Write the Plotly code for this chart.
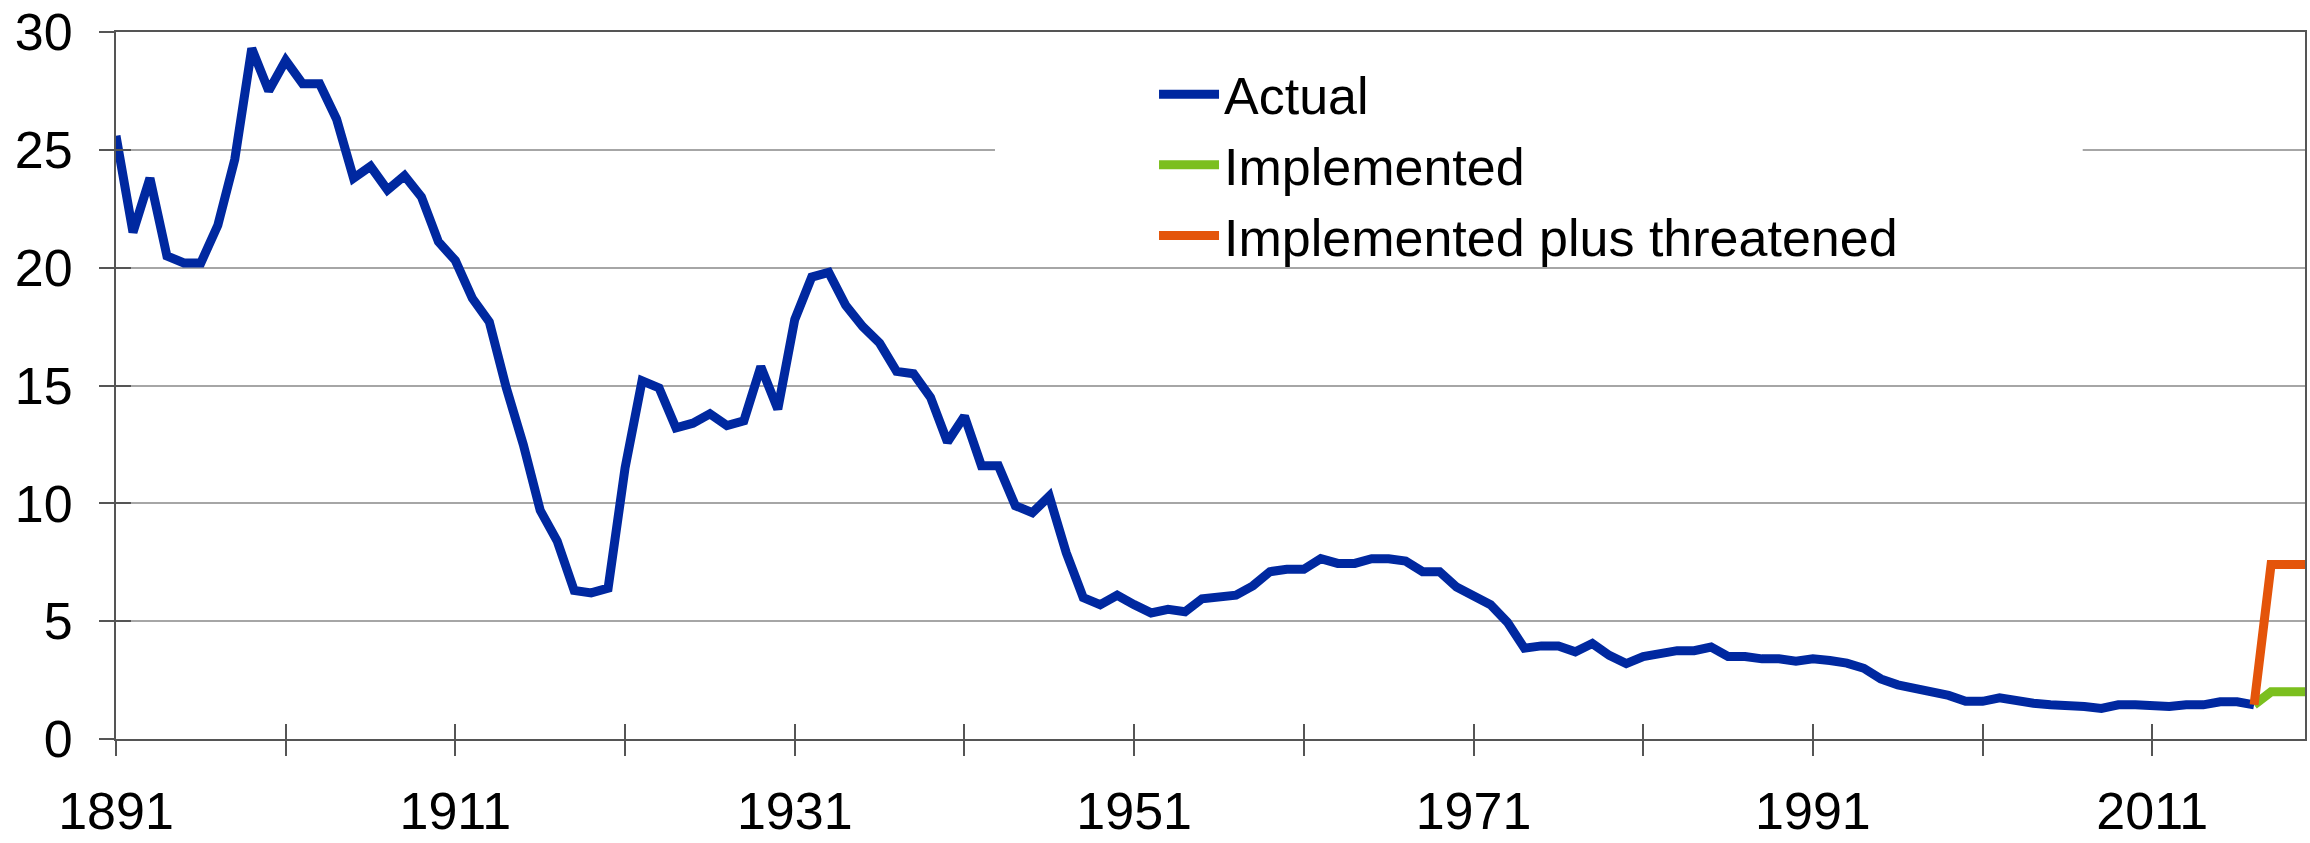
import plotly.graph_objects as go

# ---- data ----
years_actual = list(range(1891, 2018))
actual = [
    25.6, 21.5, 23.8, 20.5, 20.2, 20.2, 21.8, 24.6, 29.3, 27.5,   # 1891-1900
    28.8, 27.8, 27.8, 26.3, 23.8, 24.3, 23.3, 23.9, 23.0, 21.1,   # 1901-1910
    20.3, 18.7, 17.7, 14.9, 12.5, 9.7, 8.4, 6.3, 6.2, 6.4,        # 1911-1920
    11.5, 15.2, 14.9, 13.2, 13.4, 13.8, 13.3, 13.5, 15.8, 14.0,   # 1921-1930
    17.8, 19.6, 19.8, 18.4, 17.5, 16.8, 15.6, 15.5, 14.5, 12.6,   # 1931-1940
    13.7, 11.6, 11.6, 9.9, 9.6, 10.3, 7.9, 6.0, 5.7, 6.1,         # 1941-1950
    5.7, 5.35, 5.5, 5.4, 5.95, 6.0, 6.1, 6.5, 7.1, 7.2,           # 1951-1960
    7.2, 7.65, 7.45, 7.45, 7.65, 7.65, 7.55, 7.1, 7.1, 6.45,      # 1961-1970
    6.1, 5.7, 4.95, 3.85, 3.95, 3.95, 3.7, 4.05, 3.55, 3.2,       # 1971-1980
    3.5, 3.65, 3.75, 3.75, 3.9, 3.5, 3.5, 3.4, 3.4, 3.3,          # 1981-1990
    3.4, 3.33, 3.22, 3.0, 2.55, 2.3, 2.15, 2.05, 1.85, 1.6,       # 1991-2000
    1.6, 1.75, 1.6, 1.52, 1.45, 1.45, 1.38, 1.3, 1.45, 1.45,      # 2001-2010
    1.38, 1.38, 1.45, 1.45, 1.58, 1.58, 1.45,                     # 2011-2017
]
years_proj = [2017, 2018, 2019, 2020]
implemented = [1.45, 2.0, 2.0, 2.0]
threatened = [1.45, 7.4, 7.4, 7.4]

series_names = ["Actual", "Implemented", "Implemented plus threatened"]
x_tick_years = list(range(1891, 2020, 10))
x_tick_labels = [str(y) if (y - 1891) % 20 == 0 else "" for y in x_tick_years]
y_ticks = [0, 5, 10, 15, 20, 25, 30]

# ---- styles ----
FONT = "Liberation Sans, Arial, sans-serif"
BLUE = "#0028A0"
GREEN = "#7BBF1E"
ORANGE = "#E4540A"
AXIS = "#555555"
GRID = "#A6A6A6"
X_RANGE = [1891, 2020]
Y_RANGE = [0, 30]
LW = 9

fig = go.Figure()
fig.add_trace(go.Scatter(x=years_actual, y=actual, mode="lines", name=series_names[0],
                         line=dict(color=BLUE, width=LW)))
fig.add_trace(go.Scatter(x=years_proj, y=implemented, mode="lines", name=series_names[1],
                         line=dict(color=GREEN, width=LW)))
fig.add_trace(go.Scatter(x=years_proj, y=threatened, mode="lines", name=series_names[2],
                         line=dict(color=ORANGE, width=LW)))
# empty trace so the overlay axes (inner half of the crossing ticks) get drawn
fig.add_trace(go.Scatter(x=[], y=[], xaxis="x2", yaxis="y2", showlegend=False,
                         hoverinfo="skip"))

common_tick = dict(ticklen=15, tickwidth=2, tickcolor=AXIS, zeroline=False)

fig.update_layout(
    width=2310, height=843,
    margin=dict(l=116, r=3, t=23, b=89),
    paper_bgcolor="white", plot_bgcolor="white",
    font=dict(family=FONT, color="black", size=52),
    showlegend=True,
    legend=dict(x=0.4742, y=0.812, xanchor="left", yanchor="middle",
                bgcolor="rgba(255,255,255,0)", borderwidth=0, itemwidth=60,
                font=dict(family=FONT, size=52, color="black")),
    xaxis=dict(range=X_RANGE, tickvals=x_tick_years, ticktext=x_tick_labels,
               ticks="outside", showline=True, linecolor=AXIS, linewidth=2,
               mirror=True, showgrid=False, ticklabelstandoff=11,
               ticklabeloverflow="allow",
               tickfont=dict(size=52, color="black"), **common_tick),
    yaxis=dict(range=Y_RANGE, tickvals=y_ticks, ticks="outside", showline=True,
               linecolor=AXIS, linewidth=2, mirror=True, showgrid=True,
               gridcolor=GRID, gridwidth=2, ticklabelstandoff=16,
               ticklabeloverflow="allow",
               tickfont=dict(size=52, color="black"), **common_tick),
    xaxis2=dict(overlaying="x", anchor="y", range=X_RANGE, tickvals=x_tick_years,
                ticks="inside", showticklabels=False, showgrid=False,
                showline=False, **common_tick),
    yaxis2=dict(overlaying="y", anchor="x", side="left", range=Y_RANGE,
                tickvals=y_ticks, ticks="inside", showticklabels=False,
                showgrid=False, showline=False, **common_tick),
    # white legend panel that interrupts the gridline, as in the original
    shapes=[dict(type="rect", xref="x", yref="y", x0=1942.8, x1=2006.9,
                 y0=22.5, y1=28.5, fillcolor="white", line=dict(width=0),
                 layer="between")],
)

fig.write_html("out.html",
               config={"displayModeBar": False},
               post_script="document.body.style.margin='0';document.body.style.overflow='hidden';")
